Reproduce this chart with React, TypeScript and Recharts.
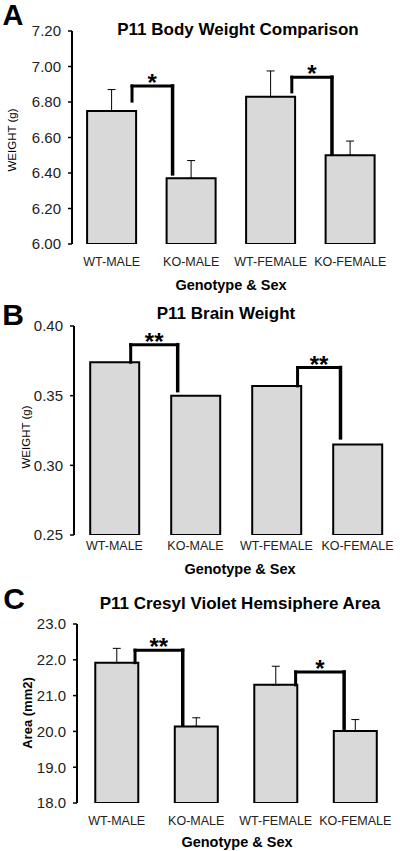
import React from 'react'
import {
  ComposedChart,
  Bar,
  ErrorBar,
  XAxis,
  YAxis,
  ReferenceLine,
} from 'recharts'

const FONT = '"Liberation Sans", Arial, sans-serif'

const categories = ['WT-MALE', 'KO-MALE', 'WT-FEMALE', 'KO-FEMALE']
const boundaryTicks = [0, 1, 2, 3, 4]

// A: body weight (g)
const bodyWeight = [6.75, 6.37, 6.83, 6.5]
const bodyWeightErr = [0.12, 0.1, 0.145, 0.08]
const bodyTicks = [6.0, 6.2, 6.4, 6.6, 6.8, 7.0, 7.2]

// B: brain weight (g)
const brainWeight = [0.374, 0.35, 0.357, 0.315]
const brainTicks = [0.25, 0.3, 0.35, 0.4]

// C: hemisphere area (mm2)
const hemiArea = [21.92, 20.14, 21.3, 20.01]
const hemiAreaErr = [0.4, 0.24, 0.52, 0.32]
const areaTicks = [18, 19, 20, 21, 22, 23]

// significance brackets, x in category units (0..4)
const bodyBrackets = [
  { x1: 0.755, x2: 1.265, yLeft: 6.805, yTop: 6.89, yRight: 6.395, stars: '*' },
  { x1: 2.765, x2: 3.27, yLeft: 6.857, yTop: 6.94, yRight: 6.511, stars: '*' },
]
const brainBrackets = [
  { x1: 0.7, x2: 1.28, yLeft: 0.374, yTop: 0.3866, yRight: 0.3536, stars: '**' },
  { x1: 2.76, x2: 3.29, yLeft: 0.357, yTop: 0.3702, yRight: 0.3197, stars: '**' },
]
const areaBrackets = [
  { x1: 0.73, x2: 1.33, yLeft: 21.92, yTop: 22.27, yRight: 20.18, stars: '**' },
  { x1: 2.75, x2: 3.36, yLeft: 21.3, yTop: 21.66, yRight: 20.09, stars: '*' },
]

type Bracket = { x1: number; x2: number; yLeft: number; yTop: number; yRight: number; stars: string }

const starLabel = (stars: string) => (props: any) => {
  const vb = props.viewBox || {}
  return (
    <text
      x={vb.x + vb.width / 2}
      y={vb.y + 5}
      textAnchor="middle"
      fontSize={24}
      fontWeight="bold"
      fontFamily={FONT}
      fill="#000"
    >
      {stars}
    </text>
  )
}

interface PanelProps {
  top: number
  height: number
  margin: { top: number; right: number; bottom: number; left: number }
  yAxisWidth: number
  xAxisHeight: number
  values: number[]
  errors?: number[]
  ticks: number[]
  decimals: number
  brackets: Bracket[]
  gap: string
  labelOffset: number
}

const Panel: React.FC<PanelProps> = (p) => {
  const data = categories.map((name, i) => ({
    name,
    pos: i + 0.5,
    value: p.values[i],
    err: p.errors ? [0, p.errors[i]] : undefined,
  }))
  const domain = [p.ticks[0], p.ticks[p.ticks.length - 1]]
  return (
    <div style={{ position: 'absolute', left: 0, top: p.top }}>
      <ComposedChart width={400} height={p.height} data={data} margin={p.margin} barCategoryGap={p.gap}>
        <XAxis
          xAxisId="num"
          dataKey="pos"
          type="number"
          domain={[0, 4]}
          allowDataOverflow
          ticks={boundaryTicks}
          tick={false}
          height={0}
          tickSize={5}
          axisLine={{ stroke: '#000', strokeWidth: 2 }}
          tickLine={{ stroke: '#000', strokeWidth: 1.5 }}
        />
        <XAxis
          dataKey="name"
          interval={0}
          height={p.xAxisHeight}
          axisLine={false}
          tickLine={false}
          tickSize={5}
          tickMargin={p.labelOffset}
          tick={{ fontSize: 12.5, fill: '#222', fontFamily: FONT }}
        />
        <YAxis
          domain={domain}
          ticks={p.ticks}
          allowDataOverflow
          width={p.yAxisWidth}
          tickFormatter={(v: number) => v.toFixed(p.decimals)}
          tickSize={4}
          tickMargin={7}
          axisLine={{ stroke: '#000', strokeWidth: 2 }}
          tickLine={{ stroke: '#000', strokeWidth: 1.5 }}
          tick={{ fontSize: 15, fill: '#222', fontFamily: FONT }}
        />
        <Bar dataKey="value" fill="#d9d9d9" stroke="#000" strokeWidth={2} isAnimationActive={false}>
          {p.errors && (
            <ErrorBar dataKey="err" width={4} stroke="#000" strokeWidth={1} direction="y" />
          )}
        </Bar>
        {p.brackets.map((b, i) => (
          <ReferenceLine
            key={`l${i}`}
            xAxisId="num"
            segment={[{ x: b.x1, y: b.yLeft }, { x: b.x1, y: b.yTop }]}
            stroke="#000"
            strokeWidth={3}
            strokeLinecap="square"
          />
        ))}
        {p.brackets.map((b, i) => (
          <ReferenceLine
            key={`h${i}`}
            xAxisId="num"
            segment={[{ x: b.x1, y: b.yTop }, { x: b.x2, y: b.yTop }]}
            stroke="#000"
            strokeWidth={3}
            strokeLinecap="square"
            label={starLabel(b.stars)}
          />
        ))}
        {p.brackets.map((b, i) => (
          <ReferenceLine
            key={`r${i}`}
            xAxisId="num"
            segment={[{ x: b.x2, y: b.yTop }, { x: b.x2, y: b.yRight }]}
            stroke="#000"
            strokeWidth={3.5}
            strokeLinecap="square"
          />
        ))}
      </ComposedChart>
    </div>
  )
}

const Txt: React.FC<{ x: number; y: number; size: number; bold?: boolean; rotate?: boolean; children: React.ReactNode }> = ({
  x, y, size, bold, rotate, children,
}) => (
  <div
    style={{
      position: 'absolute',
      left: x,
      top: y,
      transform: `translate(-50%, -50%)${rotate ? ' rotate(-90deg)' : ''}`,
      fontFamily: FONT,
      fontSize: size,
      fontWeight: bold ? 'bold' : 'normal',
      whiteSpace: 'nowrap',
      lineHeight: 1,
      color: '#000',
    }}
  >
    {children}
  </div>
)

export default function App() {
  return (
    <div style={{ position: 'absolute', left: 0, top: 0, width: 400, height: 851, background: '#fff', overflow: 'hidden' }}>
      <Panel
        top={0}
        height={275}
        margin={{ top: 31, right: 10, bottom: 6, left: 0 }}
        yAxisWidth={72}
        xAxisHeight={25}
        values={bodyWeight}
        errors={bodyWeightErr}
        ticks={bodyTicks}
        decimals={2}
        brackets={bodyBrackets}
        gap="19%"
        labelOffset={8}
      />
      <Panel
        top={290}
        height={270}
        margin={{ top: 36, right: 2, bottom: 3, left: 0 }}
        yAxisWidth={74}
        xAxisHeight={22}
        values={brainWeight}
        ticks={brainTicks}
        decimals={2}
        brackets={brainBrackets}
        gap="20%"
        labelOffset={1}
      />
      <Panel
        top={560}
        height={275}
        margin={{ top: 64, right: 5, bottom: 7, left: 0 }}
        yAxisWidth={77}
        xAxisHeight={25}
        values={hemiArea}
        errors={hemiAreaErr}
        ticks={areaTicks}
        decimals={1}
        brackets={areaBrackets}
        gap="23%"
        labelOffset={8}
      />

      <Txt x={13} y={15} size={29} bold>A</Txt>
      <Txt x={238} y={29} size={17} bold>P11 Body Weight Comparison</Txt>
      <Txt x={13} y={140} size={11.5} rotate>WEIGHT (g)</Txt>
      <Txt x={231} y={285} size={14.5} bold>Genotype &amp; Sex</Txt>

      <Txt x={13} y={315} size={30} bold>B</Txt>
      <Txt x={226} y={313} size={17} bold>P11 Brain Weight</Txt>
      <Txt x={27} y={437} size={11.5} rotate>WEIGHT (g)</Txt>
      <Txt x={240} y={569} size={14.5} bold>Genotype &amp; Sex</Txt>

      <Txt x={14} y={599} size={30} bold>C</Txt>
      <Txt x={240} y={603} size={17} bold>P11 Cresyl Violet Hemsiphere Area</Txt>
      <Txt x={27} y={713} size={13} bold rotate>Area (mm2)</Txt>
      <Txt x={237} y={842} size={14.5} bold>Genotype &amp; Sex</Txt>
    </div>
  )
}
